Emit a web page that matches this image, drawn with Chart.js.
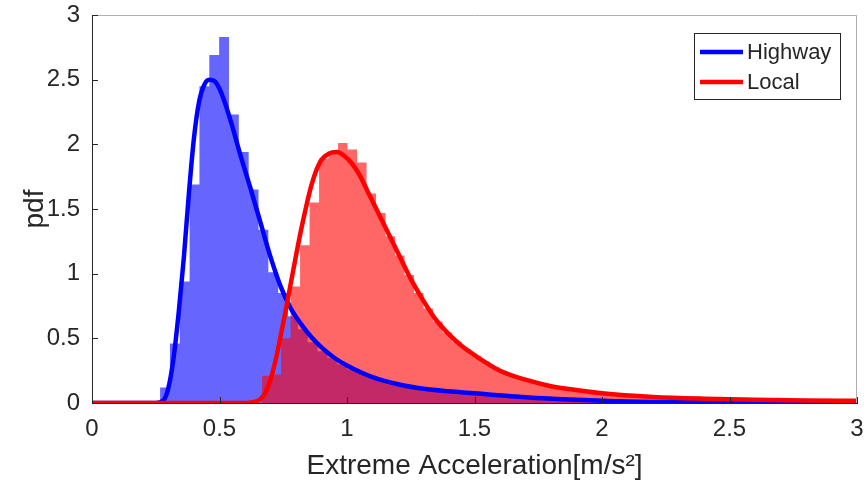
<!DOCTYPE html>
<html>
<head>
<meta charset="utf-8">
<script src="https://cdn.jsdelivr.net/npm/chart.js@4.4.0/dist/chart.umd.min.js"></script>
<style>
  body { margin: 0; background: #fff; }
  #wrap { width: 867px; height: 491px; }
</style>
</head>
<body>
<div id="wrap"><canvas id="chart" width="867" height="491"></canvas></div>
<script>
// histogram bins (pdf normalised)
const highwayBinStart = 0.267;
const highwayBinWidth = 0.0386;
const highwayHist = [
  0.12, 0.46, 0.94, 1.69, 2.45, 2.69, 2.83, 2.23, 1.94, 1.65,
  1.34, 1.01, 0.85, 0.67, 0.57, 0.47, 0.40, 0.35, 0.30, 0.26,
  0.23, 0.21, 0.18, 0.16, 0.145, 0.13, 0.12, 0.11, 0.10, 0.09,
  0.08, 0.075, 0.068, 0.06, 0.055, 0.05, 0.045, 0.04, 0.036, 0.032,
  0.028, 0.025, 0.022, 0.02, 0.018, 0.015, 0.013, 0.011, 0.01, 0.008, 0.007
];

const localBinStart = 0.667;
const localBinWidth = 0.03725;
const localHist = [
  0.21, 0.22, 0.50, 0.90, 1.22, 1.55, 1.89, 1.94, 2.01, 1.96,
  1.86, 1.62, 1.47, 1.29, 1.14, 0.99, 0.85, 0.73, 0.63, 0.545,
  0.475, 0.415, 0.365, 0.32, 0.275, 0.24, 0.21, 0.185, 0.165, 0.148,
  0.132, 0.12, 0.108, 0.098, 0.09, 0.082, 0.075, 0.069, 0.063, 0.058,
  0.054, 0.05, 0.046, 0.043, 0.04, 0.038, 0.035, 0.033, 0.032, 0.03,
  0.028, 0.027, 0.026, 0.025, 0.024, 0.023, 0.022, 0.021, 0.02, 0.02,
  0.019, 0.018, 0.018
];

// fitted pdf curves
const highwayFitX = [0, 0.25, 0.28, 0.30, 0.32, 0.34, 0.36, 0.38, 0.40, 0.42, 0.44, 0.46, 0.48, 0.50, 0.52, 0.55, 0.58, 0.62, 0.66, 0.70, 0.74, 0.78, 0.82, 0.86, 0.90, 0.95, 1.00, 1.10, 1.20, 1.30, 1.40, 1.50, 1.70, 1.90, 2.10, 2.40, 2.70, 3.00];
const highwayFitY = [0, 0, 0.02, 0.12, 0.35, 0.70, 1.12, 1.62, 2.05, 2.33, 2.46, 2.50, 2.49, 2.43, 2.33, 2.14, 1.93, 1.67, 1.40, 1.13, 0.90, 0.73, 0.61, 0.51, 0.43, 0.35, 0.29, 0.20, 0.145, 0.11, 0.09, 0.075, 0.045, 0.025, 0.012, 0.005, 0.002, 0.001];

const localFitX = [0, 0.60, 0.64, 0.66, 0.68, 0.70, 0.72, 0.74, 0.76, 0.78, 0.80, 0.82, 0.84, 0.86, 0.88, 0.90, 0.93, 0.96, 0.99, 1.02, 1.05, 1.08, 1.12, 1.16, 1.20, 1.25, 1.30, 1.35, 1.40, 1.45, 1.50, 1.60, 1.70, 1.80, 1.90, 2.00, 2.20, 2.40, 2.60, 2.80, 3.00];
const localFitY = [0, 0, 0.01, 0.03, 0.08, 0.18, 0.33, 0.52, 0.72, 0.93, 1.14, 1.34, 1.52, 1.68, 1.80, 1.88, 1.93, 1.94, 1.91, 1.85, 1.76, 1.64, 1.48, 1.32, 1.16, 0.96, 0.79, 0.64, 0.53, 0.44, 0.37, 0.25, 0.18, 0.13, 0.10, 0.075, 0.047, 0.033, 0.025, 0.02, 0.017];

const seriesNames = ['Highway', 'Local'];
const xTicks = [0, 0.5, 1, 1.5, 2, 2.5, 3];
const yTicks = [0, 0.5, 1, 1.5, 2, 2.5, 3];

const FONT = "'Liberation Sans', Arial, sans-serif";
const INK = '#262626';

function histPoints(start, width, heights) {
  const pts = heights.map((h, i) => ({ x: start + i * width, y: h }));
  pts.push({ x: start + heights.length * width, y: 0 });
  return pts;
}
function curvePoints(xs, ys) {
  return xs.map((x, i) => ({ x: x, y: ys[i] }));
}

// box, inward ticks and legend like the matlab figure
const decorPlugin = {
  id: 'decor',
  afterDraw(chart) {
    const ctx = chart.ctx;
    const a = chart.chartArea;
    const sx = chart.scales.x, sy = chart.scales.y;
    ctx.save();
    ctx.strokeStyle = '#b0b0b0';
    ctx.lineWidth = 1;
    ctx.beginPath();
    ctx.moveTo(a.left, a.top + 0.5);
    ctx.lineTo(a.right, a.top + 0.5);
    ctx.moveTo(a.right - 0.5, a.top);
    ctx.lineTo(a.right - 0.5, a.bottom);
    ctx.stroke();

    ctx.strokeStyle = INK;
    ctx.beginPath();
    xTicks.forEach(v => {
      const px = Math.round(sx.getPixelForValue(v)) + 0.5;
      ctx.moveTo(px, a.bottom);
      ctx.lineTo(px, a.bottom - 6);
    });
    yTicks.forEach(v => {
      const py = Math.round(sy.getPixelForValue(v)) + 0.5;
      ctx.moveTo(a.left, py);
      ctx.lineTo(a.left + 6, py);
    });
    ctx.stroke();

    // legend
    const lx = 694, ly = 33, lw = 146, lh = 66;
    ctx.fillStyle = '#fff';
    ctx.fillRect(lx, ly, lw, lh);
    ctx.strokeStyle = INK;
    ctx.strokeRect(lx + 0.5, ly + 0.5, lw, lh);
    const items = [chart.data.datasets[2], chart.data.datasets[3]];
    items.forEach((ds, i) => {
      const y = ly + 19 + i * 30;
      ctx.strokeStyle = ds.borderColor;
      ctx.lineWidth = 4.5;
      ctx.beginPath();
      ctx.moveTo(lx + 6, y);
      ctx.lineTo(lx + 49, y);
      ctx.stroke();
      ctx.fillStyle = INK;
      ctx.font = '22px ' + FONT;
      ctx.textAlign = 'left';
      ctx.textBaseline = 'middle';
      ctx.fillText(ds.label, lx + 53, y + 1);
    });
    ctx.restore();
  }
};

new Chart(document.getElementById('chart').getContext('2d'), {
  type: 'line',
  data: {
    datasets: [
      {
        label: seriesNames[0] + ' hist',
        data: histPoints(highwayBinStart, highwayBinWidth, highwayHist),
        stepped: 'before',
        fill: 'origin',
        backgroundColor: 'rgba(0,0,255,0.6)',
        borderColor: 'rgba(0,0,0,0)',
        borderWidth: 0,
        pointRadius: 0,
        order: 3
      },
      {
        label: seriesNames[1] + ' hist',
        data: histPoints(localBinStart, localBinWidth, localHist),
        stepped: 'before',
        fill: 'origin',
        backgroundColor: 'rgba(255,0,0,0.6)',
        borderColor: 'rgba(0,0,0,0)',
        borderWidth: 0,
        pointRadius: 0,
        order: 2
      },
      {
        label: seriesNames[0],
        data: curvePoints(highwayFitX, highwayFitY),
        borderColor: 'rgb(0,0,255)',
        borderWidth: 4.5,
        pointRadius: 0,
        fill: false,
        cubicInterpolationMode: 'monotone',
        order: 1
      },
      {
        label: seriesNames[1],
        data: curvePoints(localFitX, localFitY),
        borderColor: 'rgb(255,0,0)',
        borderWidth: 4.5,
        pointRadius: 0,
        fill: false,
        cubicInterpolationMode: 'monotone',
        order: 0
      }
    ]
  },
  options: {
    responsive: false,
    animation: false,
    layout: { padding: { top: 15, right: 10, left: 0, bottom: 0 } },
    plugins: {
      legend: { display: false },
      tooltip: { enabled: false }
    },
    scales: {
      x: {
        type: 'linear',
        min: 0,
        max: 3,
        afterFit: s => { s.height = 88; s.paddingLeft = 0; s.paddingRight = 0; },
        afterBuildTicks: s => { s.ticks = xTicks.map(v => ({ value: v })); },
        grid: { display: false, drawTicks: false },
        border: { display: true, color: INK, width: 1 },
        ticks: { color: INK, font: { family: FONT, size: 24 }, padding: 12, maxRotation: 0, callback: v => String(v) },
        title: {
          display: true,
          text: 'Extreme Acceleration[m/s²]',
          color: INK,
          font: { family: FONT, size: 28 },
          padding: { top: 0, bottom: 8 }
        }
      },
      y: {
        min: 0,
        max: 3,
        afterFit: s => { s.width = 92; s.paddingTop = 0; s.paddingBottom = 0; },
        afterBuildTicks: s => { s.ticks = yTicks.map(v => ({ value: v })); },
        grid: { display: false, drawTicks: false },
        border: { display: true, color: INK, width: 1 },
        ticks: { color: INK, font: { family: FONT, size: 24 }, padding: 12, callback: v => String(v) },
        title: {
          display: true,
          text: 'pdf',
          color: INK,
          font: { family: FONT, size: 28 },
          padding: { top: 18, bottom: 0 }
        }
      }
    }
  },
  plugins: [decorPlugin]
});
</script>
</body>
</html>
